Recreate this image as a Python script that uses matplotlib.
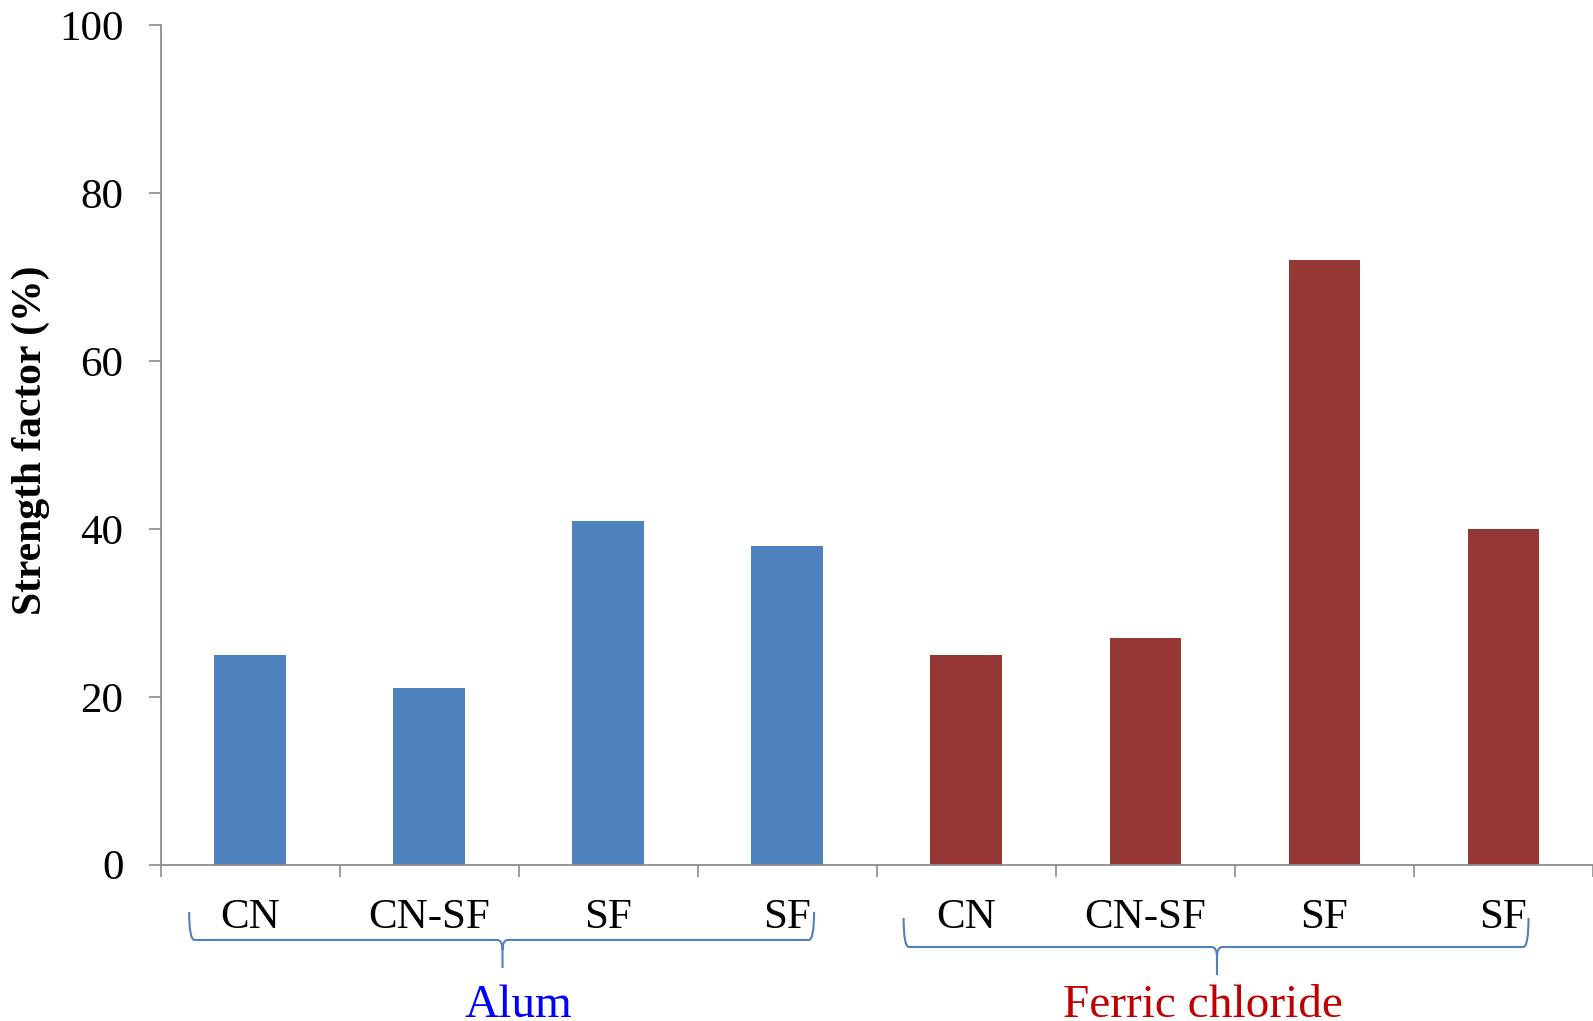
import numpy as np
import matplotlib
matplotlib.use("Agg")
import matplotlib.pyplot as plt
from matplotlib.path import Path
from matplotlib.patches import PathPatch
from matplotlib.transforms import blended_transform_factory

plt.rcParams['font.family'] = ['Liberation Serif', 'DejaVu Serif']

# data
categories = ['CN', 'CN-SF', 'SF', 'SF', 'CN', 'CN-SF', 'SF', 'SF']
alum_values = [25, 21, 41, 38]
ferric_values = [25, 27, 72, 40]
groups = ['Alum', 'Ferric chloride']

blue = '#4F81BD'
red = '#953735'
axis_gray = '#8C8C8C'

fig = plt.figure(figsize=(15.93, 10.21), dpi=100)
ax = fig.add_axes([160.5/1593, 1-864.6/1021, 1-160.5/1593, (864.6-25.4)/1021])

x = np.arange(len(categories))
ax.bar(x[:4], alum_values, width=0.4, color=blue)
ax.bar(x[4:], ferric_values, width=0.4, color=red)

ax.set_xlim(-0.5, 7.45)
ax.set_ylim(0, 100)
ax.set_yticks(np.arange(0, 101, 20))
ax.set_xticks(np.arange(-0.5, 8, 1.0))
ax.set_xticklabels([])
ax.tick_params(axis='y', labelsize=31, length=8.6, width=1.2, color=axis_gray, pad=18)
ax.tick_params(axis='x', length=8.6, width=1.2, color=axis_gray)
for s in ['top', 'right']:
    ax.spines[s].set_visible(False)
for s in ['left', 'bottom']:
    ax.spines[s].set_color(axis_gray)
    ax.spines[s].set_linewidth(1.3)

trans = blended_transform_factory(ax.transData, ax.transAxes)
for xi, lab in zip(x, categories):
    ax.text(xi, -0.0755, lab, transform=trans, ha='center', va='baseline', fontsize=31)

fig.text(30.5/1593, 1-440/1021, 'Strength factor (%)', rotation=90, ha='center', va='center',
         fontsize=30, fontweight='bold')


def brace(x0, x1, xm, ytop, yh, ytip, color):
    dx = 0.03
    dy = 0.012
    verts = [(x0, ytop), (x0, yh), (x0+dx, yh), (xm-dx, yh), (xm, yh), (xm, yh-dy), (xm, ytip),
             (xm, yh-dy), (xm, yh), (xm+dx, yh), (x1-dx, yh), (x1, yh), (x1, ytop)]
    codes = [Path.MOVETO, Path.CURVE3, Path.CURVE3, Path.LINETO, Path.CURVE3, Path.CURVE3, Path.LINETO,
             Path.MOVETO, Path.CURVE3, Path.CURVE3, Path.LINETO, Path.CURVE3, Path.CURVE3]
    p = PathPatch(Path(verts, codes), transform=trans, fill=False, edgecolor=color, lw=1.5, clip_on=False)
    ax.add_patch(p)


brace(-0.34, 3.15, 1.41, -0.0565, -0.0898, -0.1232, blue)
brace(3.65, 7.14, 5.40, -0.0636, -0.0982, -0.1316, blue)

ax.text(1.50, -0.1816, groups[0], transform=trans, ha='center', va='baseline', fontsize=34, color='#0000FF')
ax.text(5.32, -0.1816, groups[1], transform=trans, ha='center', va='baseline', fontsize=34, color='#C00000')

fig.savefig('out.png', dpi=100)
